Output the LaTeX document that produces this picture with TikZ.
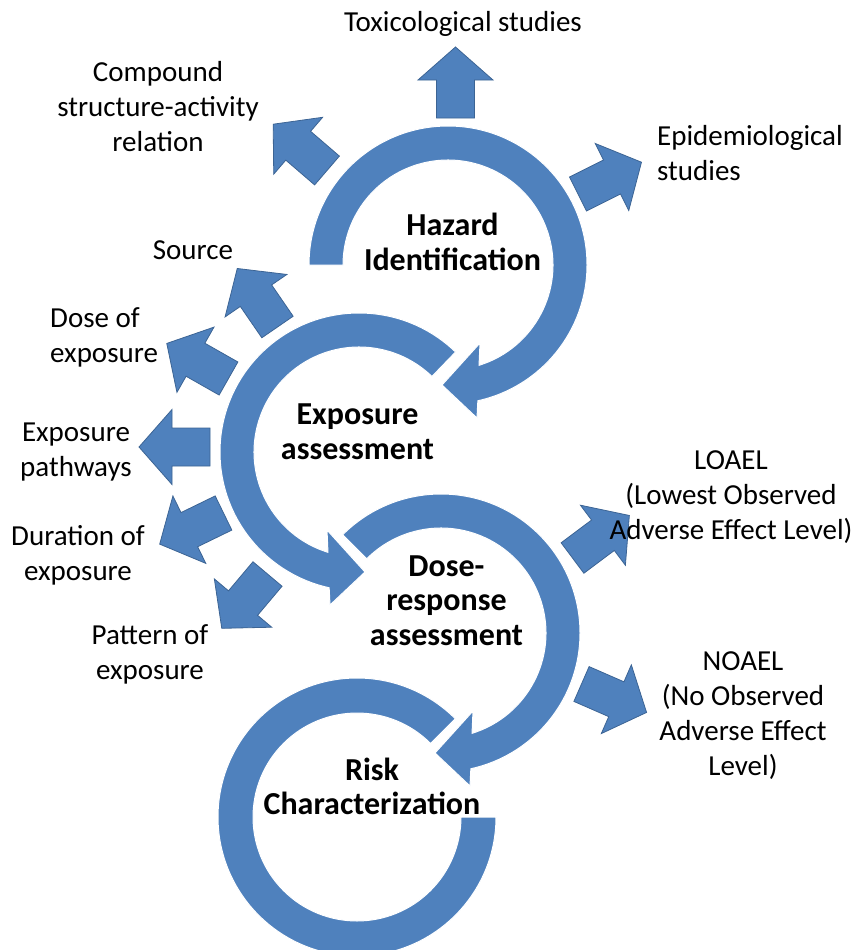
\documentclass[tikz,border=0pt]{standalone}
\usepackage{fontspec}
\setmainfont{Carlito}
\usetikzlibrary{calc}
\definecolor{ringblue}{HTML}{4F81BD}
\definecolor{edgeblue}{HTML}{3C6494}
\newcommand{\blockarr}[2]{%
  \filldraw[smallarrow] ($(#1)+(#2+90:19)$) -- ($(#1)+(#2:38)+(#2+90:19)$) -- ($(#1)+(#2:38)+(#2+90:37.5)$) -- ($(#1)+(#2:71)$) -- ($(#1)+(#2:38)+(#2-90:37.5)$) -- ($(#1)+(#2:38)+(#2-90:19)$) -- ($(#1)+(#2-90:19)$) -- cycle;}
\begin{document}
\begin{tikzpicture}[x=1pt,y=-1pt,
  smallarrow/.style={fill=ringblue,draw=edgeblue,line width=0.8pt,line join=miter},
  ring/.style={fill=ringblue,draw=white,line width=1pt},
  lbl/.style={font=\fontsize{29}{35}\selectfont,align=center,inner sep=0pt},
  bold/.style={font=\bfseries\fontsize{32}{34.5}\selectfont,align=center,inner sep=0pt}]
\useasboundingbox (0,0) rectangle (859,950);
\clip (0,0) rectangle (859,950);
% ring centres
\coordinate (hz) at (448,265);
\coordinate (ex) at (359,452);
\coordinate (dr) at (441,633);
\coordinate (rc) at (357,817);
% circular arrows
\filldraw[ring] ($(hz)+(180:139)$) arc[start angle=180,end angle=437.6,radius=139]
  -- ($(hz)+(29,153)$) -- ($(hz)+(-6,120)$) -- ($(hz)+(32,78)$)
  -- ($(hz)+(432.8:105)$) arc[start angle=432.8,end angle=180,radius=105] -- cycle;
\filldraw[ring] ($(ex)+(-46:139)$) arc[start angle=-46,end angle=-257.6,radius=139]
  -- ($(ex)+(-29,153)$) -- ($(ex)+(6,120)$) -- ($(ex)+(-32,78)$)
  -- ($(ex)+(-252.8:105)$) arc[start angle=-252.8,end angle=-46,radius=105] -- cycle;
\filldraw[ring] ($(dr)+(225:139)$) arc[start angle=225,end angle=437.6,radius=139]
  -- ($(dr)+(29,153)$) -- ($(dr)+(-6,120)$) -- ($(dr)+(32,78)$)
  -- ($(dr)+(432.8:105)$) arc[start angle=432.8,end angle=225,radius=105] -- cycle;
\filldraw[ring] ($(rc)+(0:139)$) arc[start angle=0,end angle=315,radius=139]
  -- ($(rc)+(315:104)$) arc[start angle=315,end angle=0,radius=104] -- cycle;
% small block arrows (base centre, direction)
\coordinate (aTox) at (455.5,118);
\coordinate (aComp) at (327,170.5);
\coordinate (aEpi) at (578,194);
\coordinate (aSrc) at (277.5,327);
\coordinate (aDose) at (228.5,378.5);
\coordinate (aPath) at (210,447);
\coordinate (aDur) at (223.5,513);
\coordinate (aPat) at (267.5,574);
\coordinate (aLo) at (572.5,558);
\coordinate (aNo) at (581.5,684);
\blockarr{aTox}{-90}
\blockarr{aComp}{-139.3}
\blockarr{aEpi}{-26.6}
\blockarr{aSrc}{-124.5}
\blockarr{aDose}{-150.4}
\blockarr{aPath}{180}
\blockarr{aDur}{154}
\blockarr{aPat}{130.1}
\blockarr{aLo}{-36.8}
\blockarr{aNo}{23.6}
% labels
\node[lbl] (tox) at (463,24) {Toxicological studies};
\node[lbl] (comp) at (158,107) {Compound\\structure-activity\\relation};
\node[lbl,align=left,anchor=west] (epi) at (657,153) {Epidemiological\\studies};
\node[lbl] (src) at (193,250) {Source};
\node[lbl,align=left,anchor=west] (dose) at (50,337) {Dose of\\exposure};
\node[lbl] (path) at (76,452) {Exposure\\pathways};
\node[lbl] (dur) at (78,555) {Duration of\\exposure};
\node[lbl] (pat) at (150,654) {Pattern of\\exposure};
\node[lbl] (loael) at (731,497) {LOAEL\\(Lowest Observed\\Adverse Effect Level)};
\node[lbl] (noael) at (743,716) {NOAEL\\(No Observed\\Adverse Effect\\Level)};
\node[bold] (hzt) at (452.5,242) {Hazard\\Identification};
\node[bold] (ext) at (357.5,431.5) {Exposure\\assessment};
\node[bold] (drt) at (446.5,600.5) {Dose-\\response\\assessment};
\node[bold] (rct) at (372,786.5) {Risk\\Characterization};
\end{tikzpicture}
\end{document}
